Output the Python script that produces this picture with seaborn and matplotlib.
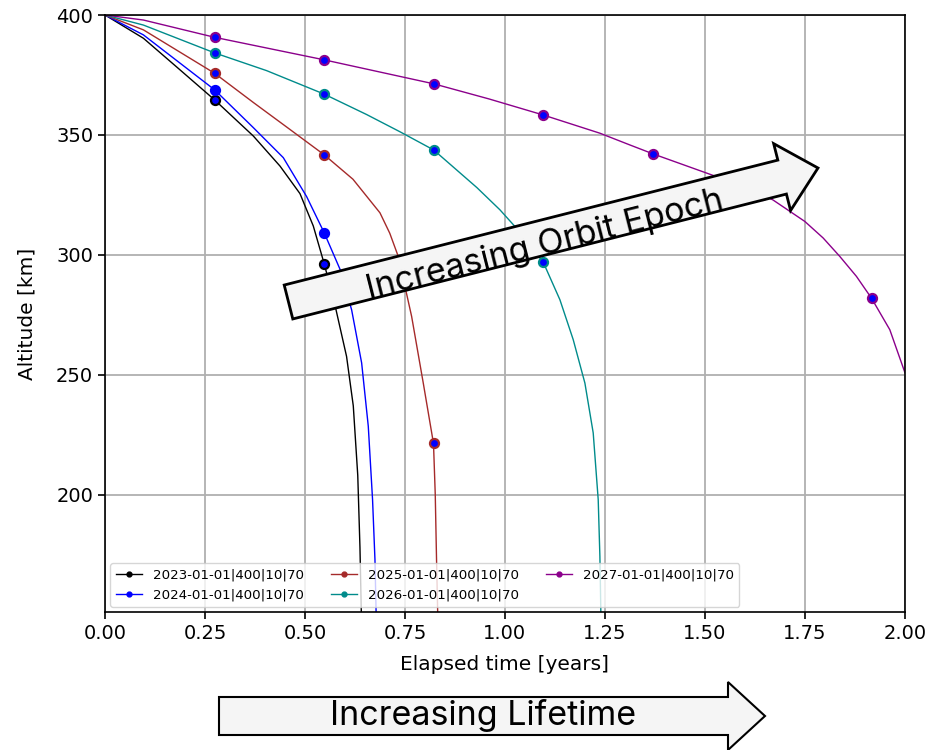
import matplotlib
matplotlib.use('Agg')
import matplotlib.pyplot as plt
import matplotlib.transforms as mtransforms
from matplotlib.patches import FancyArrow
from matplotlib.lines import Line2D
import seaborn as sns

# orbit epochs and their line colours
epochs = ['2023-01-01', '2024-01-01', '2025-01-01', '2026-01-01', '2027-01-01']
colors = ['black', 'blue', 'brown', 'darkcyan', 'darkmagenta']

# altitude decay curves (elapsed years, altitude km)
t_2023 = [0, 0.096, 0.18, 0.274, 0.371, 0.4375, 0.4875, 0.5208, 0.548, 0.575, 0.604, 0.6208, 0.632, 0.6375, 0.641]
alt_2023 = [400, 390.3, 378.2, 364.6, 349.5, 337.0, 325.5, 312.0, 296.3, 279.0, 257.6, 237.0, 208.0, 178.0, 150]

t_2024 = [0, 0.096, 0.274, 0.371, 0.4458, 0.504, 0.548, 0.5875, 0.6167, 0.6417, 0.6583, 0.669, 0.675, 0.678]
alt_2024 = [400, 391.7, 368.8, 353.0, 340.5, 324.3, 309.2, 294.0, 277.0, 254.9, 228.5, 197.9, 172.9, 150]

t_2025 = [0, 0.096, 0.274, 0.371, 0.454, 0.548, 0.62, 0.6875, 0.712, 0.7333, 0.7667, 0.7958, 0.8214, 0.8258,
          0.829, 0.832]
alt_2025 = [400, 393.8, 375.7, 363.5, 353.3, 341.7, 331.5, 317.5, 309.0, 299.3, 274.3, 246.5, 221.3, 200.0,
            172.9, 150]

t_2026 = [0, 0.096, 0.274, 0.404, 0.548, 0.654, 0.7375, 0.822, 0.93, 0.9875, 1.025, 1.0958, 1.1375, 1.1708,
          1.2, 1.2208, 1.2333, 1.2375, 1.24]
alt_2026 = [400, 395.8, 384.2, 376.8, 367.0, 358.5, 351.3, 343.7, 328.0, 318.75, 311.8, 296.9, 281.25, 264.6,
            246.5, 225.7, 197.9, 174.3, 150]

t_2027 = [0, 0.096, 0.274, 0.548, 0.822, 0.96, 1.0958, 1.2375, 1.3125, 1.37, 1.529, 1.644, 1.67, 1.75,
          1.7958, 1.8375, 1.879, 1.9167, 1.9625, 2.0]
alt_2027 = [400, 397.9, 390.7, 381.3, 371.3, 365.0, 358.3, 350.7, 345.8, 342.1, 332.6, 325.0, 322.9, 313.9,
            307.0, 299.3, 291.0, 281.9, 268.75, 251.0]

# 100-day output points (markers)
mark_t = [0.274, 0.548, 0.822, 1.096, 1.370, 1.644, 1.918]
mark_2023 = [364.6, 296.3]
mark_2024 = [368.8, 309.2]
mark_2025 = [375.7, 341.7, 221.3]
mark_2026 = [384.2, 367.0, 343.7, 297.0]
mark_2027 = [390.7, 381.3, 371.3, 358.3, 342.1, 325.0, 282.0]

curves = [(t_2023, alt_2023), (t_2024, alt_2024), (t_2025, alt_2025),
          (t_2026, alt_2026), (t_2027, alt_2027)]
marks = [mark_2023, mark_2024, mark_2025, mark_2026, mark_2027]
labels = [e + '|400|10|70' for e in epochs]

plt.rcParams['font.family'] = ['DejaVu Sans']

fig = plt.figure(figsize=(9.42, 7.5), dpi=100)
ax = fig.add_axes([0.1115, 0.184, 0.849, 0.796])

for (t, h), m, c in zip(curves, marks, colors):
    sns.lineplot(x=t, y=h, ax=ax, color=c, linewidth=1.0, sort=False, zorder=2)
    ax.plot(mark_t[:len(m)], m, linestyle='none', marker='o', markersize=6.5,
            markerfacecolor='blue', markeredgecolor=c, markeredgewidth=1.6, zorder=3)

ax.set_xlim(0, 2.0)
ax.set_ylim(151, 400)
ax.set_xticks([0, 0.25, 0.5, 0.75, 1.0, 1.25, 1.5, 1.75, 2.0])
ax.set_yticks([200, 250, 300, 350, 400])
ax.xaxis.set_major_formatter(matplotlib.ticker.FormatStrFormatter('%.2f'))
ax.grid(True, color='#b0b0b0', linewidth=1.3)
for s in ax.spines.values():
    s.set_color('black')
    s.set_linewidth(1.2)
ax.tick_params(axis='both', labelsize=14, direction='out', length=5, width=1.2, color='black')
ax.set_xlabel('Elapsed time [years]', fontsize=14.5, labelpad=9)
ax.set_ylabel('Altitude [km]', fontsize=14.5, labelpad=14)

handles = [Line2D([], [], color=c, marker='o', markersize=3.5, linewidth=1.0) for c in colors]
leg = ax.legend(handles, labels, loc='lower left', ncol=3, fontsize=9.6, frameon=True,
                columnspacing=2.0, handlelength=2.0, borderaxespad=0.4)

# annotation arrows, positioned in figure pixels (y downward)
px = mtransforms.Affine2D().scale(1 / 942, -1 / 750).translate(0, 1) + fig.transFigure

arr1 = FancyArrow(288.5, 302, 529.5, -134, width=35, head_width=69, head_length=37,
                  length_includes_head=True, facecolor='#f5f5f5', edgecolor='black',
                  linewidth=2, transform=px, zorder=10, clip_on=False)
fig.add_artist(arr1)
fig.text(545 / 942, 1 - 245 / 750, 'Increasing Orbit Epoch', rotation=14.2,
         rotation_mode='anchor', ha='center', va='center', fontsize=24.5,
         family=['Inter', 'DejaVu Sans'], zorder=11)

arr2 = FancyArrow(219, 716, 546, 0, width=38, head_width=68, head_length=37,
                  length_includes_head=True, facecolor='#f5f5f5', edgecolor='black',
                  linewidth=1.5, transform=px, zorder=10, clip_on=False)
fig.add_artist(arr2)
fig.text(483 / 942, 1 - 716 / 750, 'Increasing Lifetime', ha='center', va='center',
         fontsize=24.5, family=['Inter', 'DejaVu Sans'], zorder=11)

fig.savefig('out.png', dpi=100)
